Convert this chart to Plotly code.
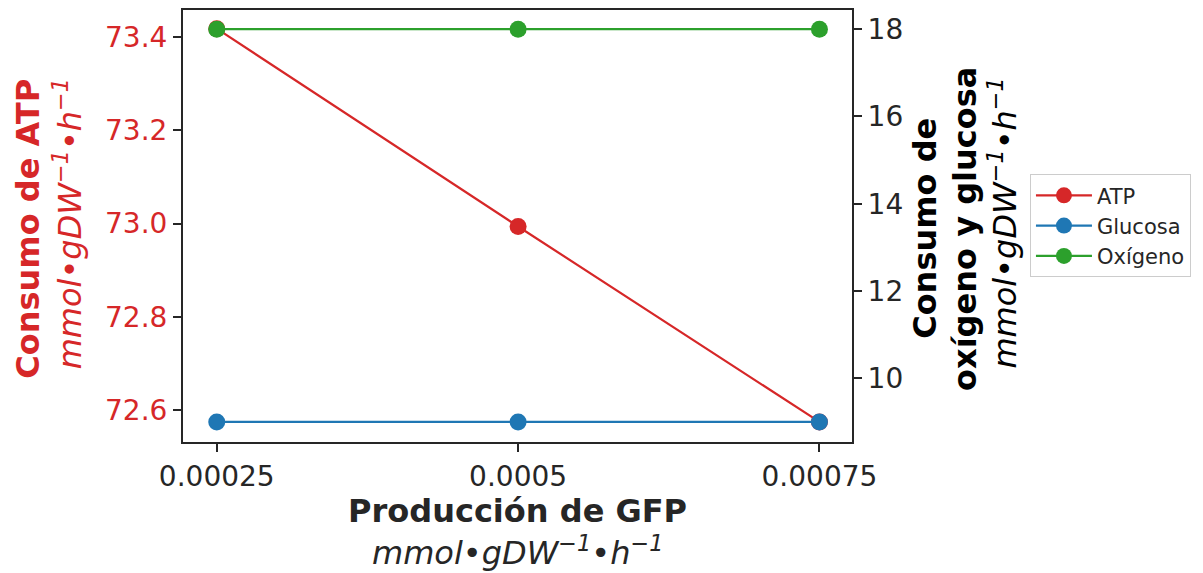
import plotly.graph_objects as go

gfp = [0.00025, 0.0005, 0.00075]
gfp_ticktext = ["0.00025", "0.0005", "0.00075"]
atp = [73.418, 72.994, 72.575]
glucosa = [9.0, 9.0, 9.0]
oxigeno = [18.0, 18.0, 18.0]
left_ticks = [72.6, 72.8, 73.0, 73.2, 73.4]
right_ticks = [10, 12, 14, 16, 18]

RED = "#d62728"
BLUE = "#1f77b4"
GREEN = "#2ca02c"
DARK = "#262626"
FONT = "DejaVu Sans"

fig = go.Figure()
fig.add_trace(go.Scatter(x=gfp, y=atp, name="ATP", mode="lines+markers",
                         line=dict(color=RED, width=2.2), marker=dict(size=17, color=RED),
                         yaxis="y"))
fig.add_trace(go.Scatter(x=gfp, y=glucosa, name="Glucosa", mode="lines+markers",
                         line=dict(color=BLUE, width=2.2), marker=dict(size=17, color=BLUE),
                         yaxis="y2"))
fig.add_trace(go.Scatter(x=gfp, y=oxigeno, name="Oxígeno", mode="lines+markers",
                         line=dict(color=GREEN, width=2.2), marker=dict(size=17, color=GREEN),
                         yaxis="y2"))

unit = "<i>mmol•gDW<sup>−1</sup>•h<sup>−1</sup></i>"

# page body has an 8px default margin, so the figure is offset by (8, 8)
fig.update_layout(
    width=1203, height=573,
    margin=dict(l=175, r=359, t=2, b=139, autoexpand=False),
    paper_bgcolor="white", plot_bgcolor="white",
    font=dict(family=FONT, color=DARK),
    showlegend=True,
    legend=dict(x=1.266, y=0.62, xanchor="left", yanchor="top", itemwidth=56,
                bgcolor="white", bordercolor="#cccccc", borderwidth=1,
                font=dict(size=21, color=DARK)),
    xaxis=dict(range=[0.000222, 0.000777], tickvals=gfp, ticktext=gfp_ticktext,
               showgrid=False, zeroline=False, showline=True, mirror=True,
               linecolor=DARK, linewidth=2, ticks="outside", ticklen=8, tickwidth=1.5,
               tickcolor=DARK, tickfont=dict(size=28, color=DARK, family=FONT)),
    yaxis=dict(range=[72.532, 73.458], tickvals=left_ticks,
               ticktext=[f"{v:.1f}" for v in left_ticks],
               showgrid=False, zeroline=False, showline=True, mirror=True,
               linecolor=DARK, linewidth=2, ticks="outside", ticklen=8, tickwidth=1.5,
               tickcolor=DARK, tickfont=dict(size=28, color=RED, family=FONT)),
    yaxis2=dict(range=[8.54, 18.44], tickvals=right_ticks, overlaying="y", side="right",
                showgrid=False, zeroline=False, showline=True,
                linecolor=DARK, linewidth=2, ticks="outside", ticklen=8, tickwidth=1.5,
                tickcolor=DARK, tickfont=dict(size=28, color=DARK, family=FONT)),
)

def label(text, x, y, color, angle=0):
    fig.add_annotation(xref="paper", yref="paper", x=x, y=y, xanchor="center",
                       yanchor="middle", text=text, showarrow=False, textangle=angle,
                       font=dict(size=32, color=color, family=FONT))

label("<b>Producción de GFP</b>", 0.5, -0.159, DARK)
label(unit, 0.5, -0.252, DARK)
label("<b>Consumo de ATP</b>", -0.233, 0.494, RED, -90)
label(unit, -0.172, 0.506, RED, -90)
label("<b>Consumo de</b>", 1.108, 0.494, "black", -90)
label("<b>oxígeno y glucosa</b>", 1.168, 0.494, "black", -90)
label(unit, 1.226, 0.506, "black", -90)

fig.write_html("out.html")
